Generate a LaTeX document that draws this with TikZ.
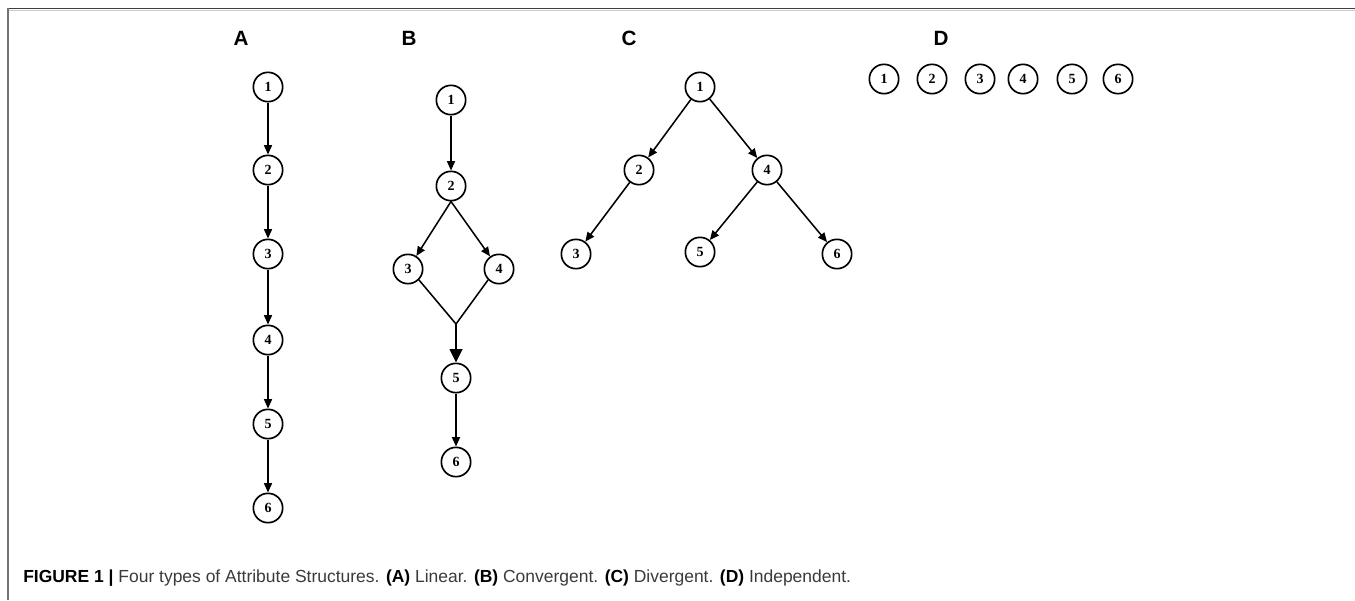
\documentclass[tikz,border=0pt]{standalone}
\usepackage{fontspec}
\setmainfont{Liberation Serif}
\setsansfont{Liberation Sans}
\usetikzlibrary{arrows.meta}
\definecolor{captxt}{HTML}{3A3A3A}
\begin{document}
\begin{tikzpicture}[x=0.75pt,y=-0.75pt,
  nd/.style={circle,draw,line width=1.25pt,minimum size=22pt,inner sep=0pt,font=\rmfamily\bfseries\fontsize{10.5}{12}\selectfont},
  arr/.style={line width=1.15pt,-{Triangle[length=7pt,width=6pt]}},
  ln/.style={line width=1.15pt},
  bigarr/.style={line width=1.15pt,-{Triangle[length=10pt,width=9.5pt]}},
  lab/.style={font=\sffamily\bfseries\fontsize{15.5}{17}\selectfont,inner sep=0pt}]
\useasboundingbox (0,0) rectangle (1355,600);
% frame
\draw[line width=1.1pt,color=black!75] (8,8.5) -- (1355,8.5);
\draw[line width=0.6pt,color=black!20] (8,10) -- (1355,10);
\draw[line width=1.1pt,color=black!55] (8,8) -- (8,600);
% labels
\node[lab] (la) at (241,38) {A};
\node[lab] (lb) at (409,38) {B};
\node[lab] (lc) at (629,38) {C};
\node[lab] (ld) at (941,38) {D};
% A linear
\node[nd] (a1) at (268,87) {1};
\node[nd] (a2) at (268,170) {2};
\node[nd] (a3) at (268,254) {3};
\node[nd] (a4) at (268,340) {4};
\node[nd] (a5) at (268,424) {5};
\node[nd] (a6) at (268,508) {6};
\draw[arr] (a1) -- (a2);
\draw[arr] (a2) -- (a3);
\draw[arr] (a3) -- (a4);
\draw[arr] (a4) -- (a5);
\draw[arr] (a5) -- (a6);
% B convergent
\node[nd] (b1) at (451,100) {1};
\node[nd] (b2) at (451,186) {2};
\node[nd] (b3) at (408,269) {3};
\node[nd] (b4) at (499,269) {4};
\coordinate (bj) at (456,324);
\node[nd] (b5) at (456,378) {5};
\node[nd] (b6) at (456,462) {6};
\draw[arr] (b1) -- (b2);
\draw[arr] (b2.south) -- (b3);
\draw[arr] (b2.south) -- (b4);
\draw[ln] (b3.-45) -- (bj);
\draw[ln] (b4.-135) -- (bj);
\draw[bigarr] (bj) -- (b5);
\draw[arr] (b5) -- (b6);
% C divergent
\node[nd] (c1) at (700,87) {1};
\node[nd] (c2) at (639,170) {2};
\node[nd] (c4) at (767,170) {4};
\node[nd] (c3) at (576,254) {3};
\node[nd] (c5) at (700,252) {5};
\node[nd] (c6) at (837,254) {6};
\draw[arr] (c1) -- (c2);
\draw[arr] (c1) -- (c4);
\draw[arr] (c2) -- (c3);
\draw[arr] (c4) -- (c5);
\draw[arr] (c4) -- (c6);
% D independent
\node[nd] (d1) at (884,79) {1};
\node[nd] (d2) at (932,79) {2};
\node[nd] (d3) at (980,79) {3};
\node[nd] (d4) at (1023,79) {4};
\node[nd] (d5) at (1072,79) {5};
\node[nd] (d6) at (1118,79) {6};
% caption
\node[anchor=base west,inner sep=0pt,font=\sffamily\fontsize{13.1}{15}\selectfont,color=captxt] (cap) at (23,582)
  {\textcolor{black}{\bfseries FIGURE 1 |} Four types of Attribute Structures. \textcolor{black}{\bfseries (A)} Linear. \textcolor{black}{\bfseries (B)} Convergent. \textcolor{black}{\bfseries (C)} Divergent. \textcolor{black}{\bfseries (D)} Independent.};
\end{tikzpicture}
\end{document}
